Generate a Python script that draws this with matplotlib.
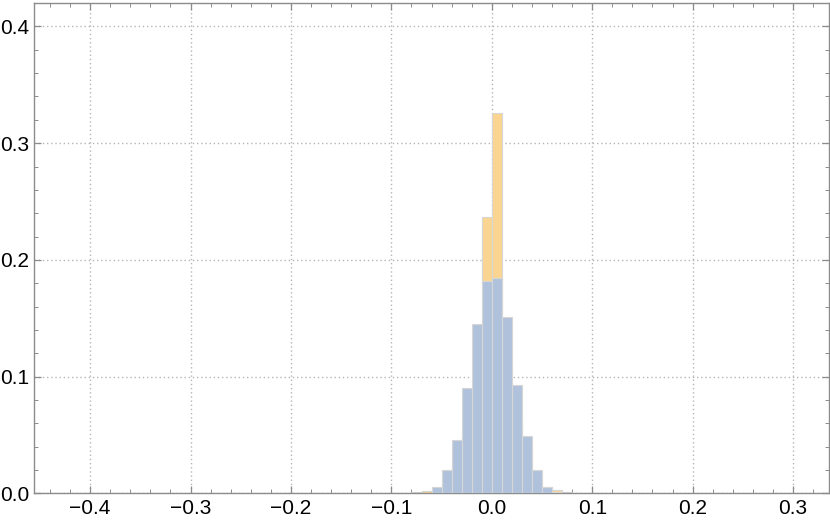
import matplotlib

matplotlib.use("Agg")
import matplotlib.pyplot as plt
from matplotlib.ticker import MultipleLocator

# bin left edges (width 0.01) and per-bin probabilities
BIN_WIDTH = 0.01
blue_edges = [-0.06, -0.05, -0.04, -0.03, -0.02, -0.01, 0.00, 0.01, 0.02, 0.03, 0.04, 0.05, 0.06]
blue_values = [0.0057, 0.020, 0.0457, 0.0905, 0.145, 0.1817, 0.1848, 0.1513, 0.0928, 0.0491, 0.020, 0.0057, 0.0015]

orange_edges = [-0.08, -0.07, -0.06, -0.05, -0.04, -0.03, -0.02, -0.01, 0.00, 0.01, 0.02, 0.03, 0.04, 0.05, 0.06, 0.07]
orange_values = [0.001, 0.002, 0.004, 0.012, 0.025, 0.050, 0.090, 0.2365, 0.326, 0.110, 0.060, 0.035, 0.015, 0.005, 0.0025, 0.001]

x_ticks = [-0.4, -0.3, -0.2, -0.1, 0.0, 0.1, 0.2, 0.3]
y_ticks = [0.0, 0.1, 0.2, 0.3, 0.4]

ORANGE = "#f9d591"
BLUE = "#b0c2db"
EDGE = "#d6d6d6"
FRAME = "#8c8c8c"

plt.rcParams["font.family"] = ["Liberation Sans", "DejaVu Sans"]

fig = plt.figure(figsize=(8.3, 5.22), dpi=100)
ax = fig.add_axes([0.041, 0.055, 0.958, 0.939])

ax.bar(orange_edges, orange_values, width=BIN_WIDTH, align="edge",
       color=ORANGE, edgecolor=EDGE, linewidth=0.8, zorder=2)
ax.bar(blue_edges, blue_values, width=BIN_WIDTH, align="edge",
       color=BLUE, edgecolor=EDGE, linewidth=0.8, zorder=3)

ax.set_xlim(-0.4559, 0.336)
ax.set_ylim(0, 0.42)

ax.set_xticks(x_ticks)
ax.set_xticklabels([f"{t:.1f}".replace("-", "\u2212") for t in x_ticks])
ax.set_yticks(y_ticks)
ax.set_yticklabels([f"{t:.1f}" for t in y_ticks])
ax.xaxis.set_minor_locator(MultipleLocator(0.02))
ax.yaxis.set_minor_locator(MultipleLocator(0.02))

ax.tick_params(which="both", direction="in", top=True, right=True,
               color=FRAME, labelsize=15, labelcolor="black")
ax.tick_params(which="major", length=5, width=0.9)
ax.tick_params(which="minor", length=3, width=0.7)
ax.tick_params(axis="x", pad=4)
ax.tick_params(axis="y", pad=3.5)

for spine in ax.spines.values():
    spine.set_color(FRAME)
    spine.set_linewidth(1.0)

ax.grid(True, which="major", color="#b5b5b5", linestyle=(0, (1, 2)), linewidth=1.0, zorder=1)
ax.set_axisbelow(True)

fig.savefig("out.png", dpi=100)
